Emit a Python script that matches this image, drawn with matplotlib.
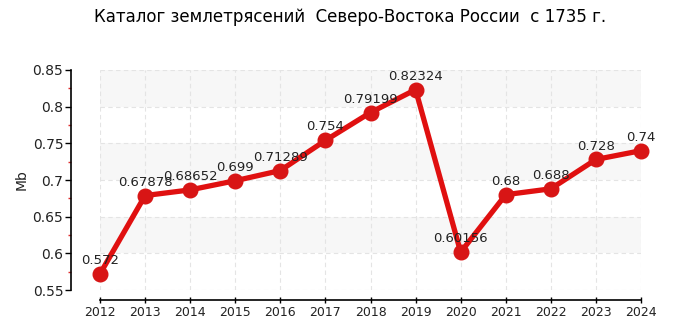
import matplotlib
matplotlib.use("Agg")
import matplotlib.pyplot as plt
from matplotlib.ticker import MultipleLocator

years = [2012, 2013, 2014, 2015, 2016, 2017, 2018, 2019, 2020, 2021, 2022, 2023, 2024]
values = [0.572, 0.67878, 0.68652, 0.699, 0.71289, 0.754, 0.79199, 0.82324, 0.60156, 0.68, 0.688, 0.728, 0.74]
labels = ["0.572", "0.67878", "0.68652", "0.699", "0.71289", "0.754", "0.79199", "0.82324",
          "0.60156", "0.68", "0.688", "0.728", "0.74"]
title = "Каталог землетрясений  Северо-Востока России  с 1735 г."
ylabel = "Mb"

plt.rcParams['font.family'] = ['DejaVu Sans']
W, H = 700, 325
fig = plt.figure(figsize=(W / 100, H / 100), dpi=100)
ax = fig.add_axes([100 / W, (H - 290) / H, (641 - 100) / W, (290 - 70) / H])

ax.set_xlim(2012, 2024)
ax.set_ylim(0.55, 0.85)

# alternating bands
for lo in [0.60, 0.70, 0.80]:
    ax.axhspan(lo, lo + 0.05, color='#f7f7f7', zorder=0, lw=0)

ax.set_xticks(years)
ax.set_xticklabels([str(y) for y in years])
ax.yaxis.set_major_locator(MultipleLocator(0.05))
ax.yaxis.set_minor_locator(MultipleLocator(0.025))
ax.set_yticklabels([f"{v:g}" for v in ax.get_yticks()])

ax.grid(True, which='major', color='#e4e4e4', linestyle=(0, (4, 3)), linewidth=0.8, zorder=1)
ax.set_axisbelow(True)

for s in ['top', 'right']:
    ax.spines[s].set_visible(False)
ax.spines['left'].set_position(('outward', 29 * 72 / 100))
ax.spines['bottom'].set_position(('outward', 10 * 72 / 100))
ax.spines['left'].set_linewidth(1.2)
ax.spines['bottom'].set_linewidth(1.2)

ax.tick_params(axis='y', which='major', length=4, width=1, colors='black', labelsize=10,
               labelcolor='#222222', pad=1.5)
ax.tick_params(axis='y', which='minor', length=2.5, width=1, colors='#e03030')
ax.tick_params(axis='x', which='major', length=5, width=1, direction='inout', labelsize=9,
               labelcolor='#222222', pad=2)

ax.plot(years, values, color='#e01010', linewidth=3.8, marker='o', markersize=10.5,
        markerfacecolor='#d81515', markeredgecolor='#d81515', zorder=3, clip_on=False)

for x, v, lab in zip(years, values, labels):
    ax.annotate(lab, (x, v), xytext=(0, 5), textcoords='offset points', ha='center', va='bottom',
                fontsize=9.5, color='#222222', zorder=4)

ax.set_ylabel(ylabel, fontsize=10, color='#222222', labelpad=3)
fig.text(0.5, 1 - 17 / H, title, ha='center', va='center', fontsize=12, color='black')

fig.savefig("out.png", dpi=100)
